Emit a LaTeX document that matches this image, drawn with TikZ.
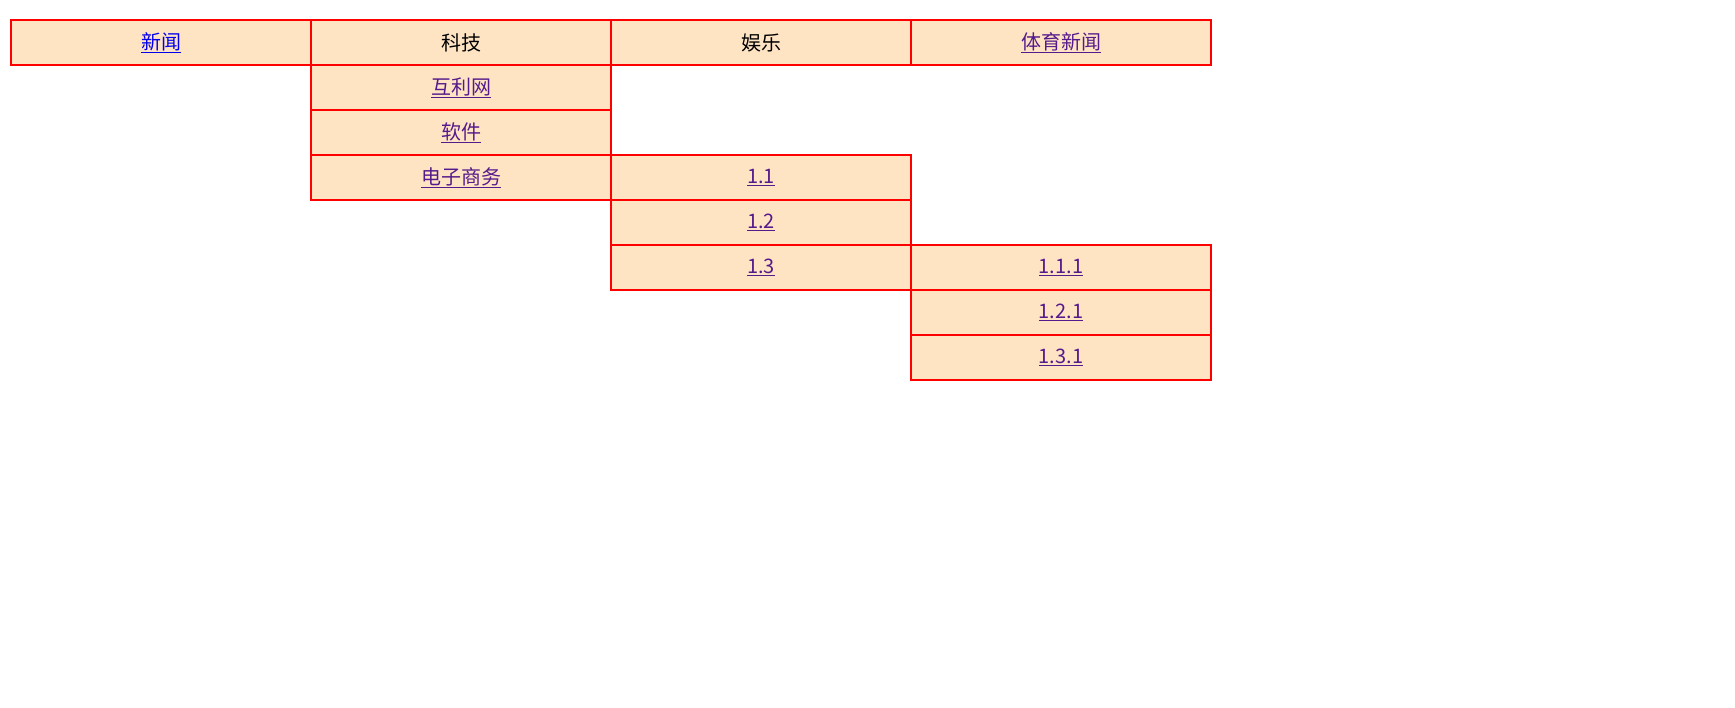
\documentclass[tikz,border=0pt]{standalone}
\usepackage{fontspec}
\setmainfont{Noto Sans CJK SC}
\definecolor{cellbg}{HTML}{FFE4C4}
\definecolor{lnk}{HTML}{0000EE}
\definecolor{vis}{HTML}{551A8B}
\tikzset{cell/.style={draw=red,fill=cellbg,line width=1.2pt,minimum width=300pt,minimum height=45pt,inner sep=0pt,font=\fontsize{20}{24}\selectfont},
 link/.style={cell,text=vis}, plain/.style={cell,text=black}}
\newcommand{\ul}[1]{\underline{#1}}
\begin{document}
\begin{tikzpicture}[x=1pt,y=1pt]
\useasboundingbox[fill=white] (0,0) rectangle (1735,-708);
\def\cx#1{#1*300+161}
\def\cy#1{-(#1*45+42.5)}
\node[link,text=lnk] (a0) at ({\cx0},{\cy0}) {\ul{新闻}};
\node[plain] (b0) at ({\cx1},{\cy0}) {科技};
\node[link] (b1) at ({\cx1},{\cy1}) {\ul{互利网}};
\node[link] (b2) at ({\cx1},{\cy2}) {\ul{软件}};
\node[link] (b3) at ({\cx1},{\cy3}) {\ul{电子商务}};
\node[plain] (c0) at ({\cx2},{\cy0}) {娱乐};
\node[link] (c3) at ({\cx2},{\cy3}) {\ul{1.1}};
\node[link] (c4) at ({\cx2},{\cy4}) {\ul{1.2}};
\node[link] (c5) at ({\cx2},{\cy5}) {\ul{1.3}};
\node[link] (d0) at ({\cx3},{\cy0}) {\ul{体育新闻}};
\node[link] (d5) at ({\cx3},{\cy5}) {\ul{1.1.1}};
\node[link] (d6) at ({\cx3},{\cy6}) {\ul{1.2.1}};
\node[link] (d7) at ({\cx3},{\cy7}) {\ul{1.3.1}};
\end{tikzpicture}
\end{document}
